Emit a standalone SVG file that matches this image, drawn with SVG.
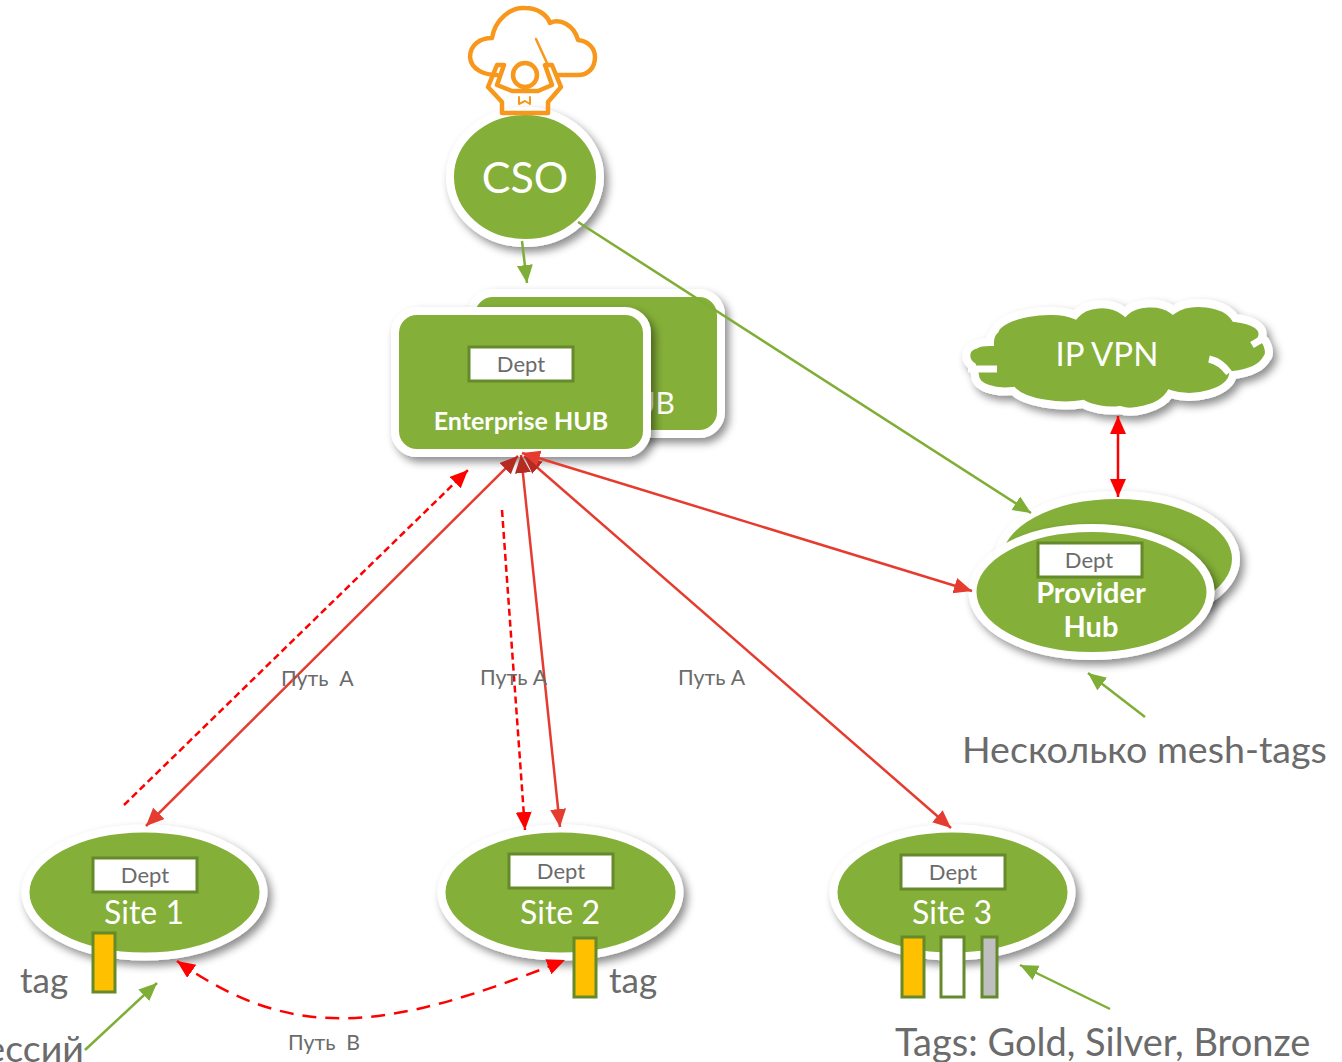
<svg xmlns="http://www.w3.org/2000/svg" width="1342" height="1062" viewBox="0 0 1342 1062">
<defs>
<style>
text{font-family:Lato,"Noto Sans","Liberation Sans",sans-serif}
.n{fill:#84AF37;stroke:#fff;stroke-width:8;filter:url(#sh)}
.d{fill:#fff;stroke:#658A2B;stroke-width:3}
.dt{font-size:22px;fill:#6b6b6b;text-anchor:middle}
.s{font-size:32px;fill:#fff;text-anchor:middle}
.h{font-size:25px;font-weight:700;fill:#fff;text-anchor:middle}
.l{font-size:37.600px;fill:#6b6b6b}
.tg{font-size:35px;fill:#6b6b6b}
.p{font-size:21.300px;fill:#6b6b6b}
.t{stroke:#658A2B;stroke-width:3}
.g{stroke:#7FAE37;stroke-width:2.500;fill:none;marker-end:url(#ag)}
.r{stroke:#E53C2F;stroke-width:2.500;fill:none;marker-end:url(#ar)}
.hd{marker-start:url(#ak)}
.rr{stroke:#F00;stroke-width:2.500;fill:none;marker-end:url(#af)}
.ic{fill:none;stroke:#F7981D;stroke-width:4.500;stroke-linejoin:round;stroke-linecap:round}
</style>
<filter id="sh" x="-15%" y="-15%" width="130%" height="135%"><feDropShadow dx="4" dy="5" stdDeviation="4" flood-color="#000" flood-opacity=".45"/></filter>
<marker id="ag" markerUnits="userSpaceOnUse" markerWidth="20" markerHeight="18" refX="18" refY="8" orient="auto-start-reverse"><path d="M0 0L18 8L0 16z" fill="#7FAE37"/></marker>
<marker id="ar" markerUnits="userSpaceOnUse" markerWidth="20" markerHeight="18" refX="18" refY="8" orient="auto-start-reverse"><path d="M0 0L18 8L0 16z" fill="#E53C2F"/></marker>
<marker id="ak" markerUnits="userSpaceOnUse" markerWidth="20" markerHeight="18" refX="18" refY="8" orient="auto-start-reverse"><path d="M0 0L18 8L0 16z" fill="#B62A22"/></marker>
<marker id="af" markerUnits="userSpaceOnUse" markerWidth="20" markerHeight="18" refX="18" refY="8" orient="auto-start-reverse"><path d="M0 0L18 8L0 16z" fill="#F00"/></marker>
</defs>
<rect width="1342" height="1062" fill="#fff"/>
<g id="cso"><ellipse class="n" cx="525" cy="177" rx="75" ry="66"/><text x="525" y="193" font-size="43" fill="#fff" text-anchor="middle">CSO</text></g>
<g id="conductor-icon" class="ic">
<path d="M497 75C485 75 471 70 470 57C470 45 480 38 492 38C495 20 510 7 525 8C538 8 547 15 550 23C560 18 574 25 578 40C588 41 595 48 595 57C595 68 588 75 578 75H557"/>
<path d="M502 113V102L488 87L497 65H504L497 85L512 91H538L552 85L545 65H552L561 87L548 102V113Z"/>
<circle cx="525" cy="75" r="12"/>
<path d="M536 39L547 63" stroke-width="2.500"/>
<path d="M519 97V104L525 101L530 104V97" stroke-width="2"/>
</g>
<g id="hub-back"><rect class="n" x="471" y="293" width="250" height="141" rx="22"/><text x="675" y="414" font-size="30" fill="#fff" text-anchor="end">UB</text></g>
<g id="hub-front"><rect class="n" x="395" y="311" width="252" height="142" rx="22"/><rect class="d" x="469" y="347" width="104" height="34"/><text class="dt" x="521" y="372">Dept</text><text class="h" x="521" y="430">Enterprise HUB</text></g>
<g id="ip-vpn">
<path class="n" d="M995 330C1000 315 1050 305 1075 315C1085 303 1110 300 1125 312C1135 302 1160 300 1173 310C1190 298 1225 302 1235 318C1255 320 1265 328 1262 337C1270 345 1270 355 1267 358C1262 368 1250 373 1233 375C1230 392 1195 402 1170 394C1160 410 1130 414 1120 410C1105 412 1090 408 1083 404C1060 408 1025 403 1013 391C995 393 975 388 975 375C975 371 972 368 972 366C964 360 964 348 975 345C980 342 985 342 990 342C990 336 992 333 995 330Z"/>
<path d="M1209 359C1218 361 1224 366 1229 373M1252 345L1262 339M968 369H997" fill="none" stroke="#fff" stroke-width="7"/>
<text x="1107" y="366" font-size="33" fill="#fff" text-anchor="middle">IP VPN</text></g>
<g id="provider-back"><ellipse class="n" cx="1117" cy="559" rx="119" ry="64"/></g>
<g id="provider-front"><ellipse class="n" cx="1091.500" cy="592" rx="119" ry="64"/><rect class="d" x="1038" y="543" width="104" height="34"/><text class="dt" x="1089" y="568">Dept</text><text class="h" x="1091" y="603" style="font-size:29px">Provider</text><text class="h" x="1091" y="637" style="font-size:29px">Hub</text></g>
<g id="site-1"><ellipse class="n" cx="144.500" cy="892.500" rx="119" ry="64"/><rect class="d" x="93" y="858" width="104" height="34"/><text class="dt" x="145" y="883">Dept</text><text class="s" x="144" y="924">Site 1</text><rect class="t" x="93" y="933" width="22" height="59" fill="#FFC000"/></g>
<g id="site-2"><ellipse class="n" cx="560.500" cy="892.500" rx="119" ry="64"/><rect class="d" x="509" y="854" width="104" height="34"/><text class="dt" x="561" y="879">Dept</text><text class="s" x="560" y="924">Site 2</text><rect class="t" x="574" y="938" width="22" height="59" fill="#FFC000"/></g>
<g id="site-3"><ellipse class="n" cx="952.500" cy="892.500" rx="119" ry="64"/><rect class="d" x="901" y="855" width="104" height="34"/><text class="dt" x="953" y="880">Dept</text><text class="s" x="952" y="924">Site 3</text><rect class="t" x="902" y="937" width="22" height="60" fill="#FFC000"/><rect class="t" x="941" y="937" width="23" height="60" fill="#fff"/><rect class="t" x="982" y="937" width="15" height="60" fill="#BFBFBF"/></g>
<g id="connectors">
<path class="g" d="M522 241L527 283"/>
<path class="g" d="M578 222L1031 513"/>
<path class="g" d="M1145 717L1088 673"/>
<path class="g" d="M85 1050L157 983"/>
<path class="g" d="M1110 1009L1020 965"/>
<path class="rr" stroke-dasharray="7 4" d="M124 805L468 470"/>
<path class="rr" stroke-dasharray="7 4" d="M502 510L525 830"/>
<path class="rr" stroke-dasharray="14 9" d="M177 961C290 1040 380 1035 565 960" style="marker-start:url(#af)"/>
<path class="rr" d="M1118 497L1118 416" style="marker-start:url(#af)"/>
<path class="r hd" d="M518 456L146 826"/>
<path class="r hd" d="M521 455L560 827"/>
<path class="r hd" d="M524 456L951 828"/>
<path class="r" d="M972 591L522 453" style="marker-start:url(#ar)"/>
</g>
<g id="labels">
<text class="p" x="281" y="686" xml:space="preserve">Путь  A</text>
<text class="p" x="480" y="685">Путь A</text>
<text class="p" x="678" y="685">Путь A</text>
<text class="p" x="288" y="1050" xml:space="preserve">Путь  В</text>
<text class="tg" x="20" y="993">tag</text>
<text class="tg" x="609" y="993">tag</text>
<text class="l" x="84" y="1062" text-anchor="end">ессий</text>
<text class="l" x="962" y="763">Несколько mesh-tags</text>
<text class="l" x="895" y="1056" style="font-size:38px">Tags: Gold, Silver, Bronze</text>
</g>
</svg>
